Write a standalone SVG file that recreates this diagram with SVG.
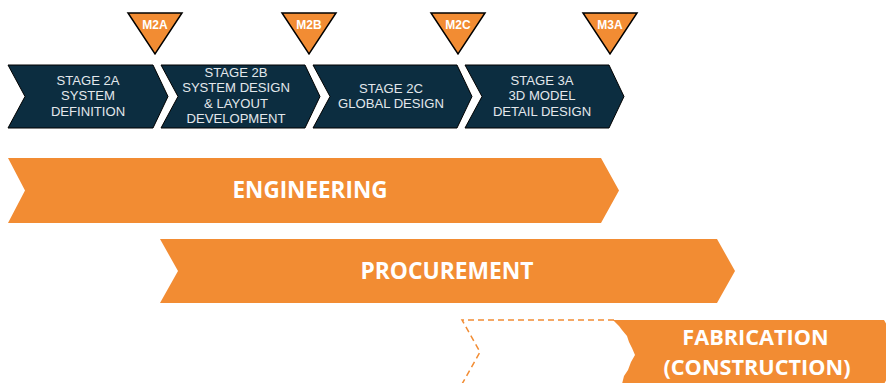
<svg xmlns="http://www.w3.org/2000/svg" width="886" height="383" viewBox="0 0 886 383">
<defs>
<style>
.stage{fill:#0C2D40;stroke:#000;stroke-width:1}
.st{font-family:"Liberation Sans",Arial,sans-serif;font-size:13.1px;fill:#E3E8EC;text-anchor:middle}
.ms{fill:#F28C33;stroke:#000;stroke-width:1.5;stroke-linejoin:miter}
.mt{font-family:"Liberation Sans",Arial,sans-serif;font-size:12px;font-weight:bold;fill:#fff;text-anchor:middle}
.bar{fill:#F28C33}
.bt{font-family:"Open Sans","Liberation Sans",sans-serif;font-weight:bold;fill:#fff;text-anchor:middle}
.dash{fill:none;stroke:#F28C33;stroke-width:1.5;stroke-dasharray:6 4}
</style>
</defs>
<rect width="886" height="383" fill="#fff"/>

<g id="stage2a">
<polygon class="stage" points="8,65 153,65 168,96.5 153,128 8,128 25,96.5"/>
<text class="st" x="88" y="84.5">STAGE 2A</text>
<text class="st" x="88" y="100">SYSTEM</text>
<text class="st" x="88" y="115.5">DEFINITION</text>
</g>
<g id="stage2b">
<polygon class="stage" points="161,65 305,65 320,96.5 305,128 161,128 178,96.5"/>
<text class="st" x="236" y="76.5">STAGE 2B</text>
<text class="st" x="236" y="92">SYSTEM DESIGN</text>
<text class="st" x="236" y="107.5">&amp; LAYOUT</text>
<text class="st" x="236" y="123">DEVELOPMENT</text>
</g>
<g id="stage2c">
<polygon class="stage" points="313,65 457,65 472,96.5 457,128 313,128 330,96.5"/>
<text class="st" x="391" y="93">STAGE 2C</text>
<text class="st" x="391" y="108">GLOBAL DESIGN</text>
</g>
<g id="stage3a">
<polygon class="stage" points="465,65 609,65 624,96.5 609,128 465,128 482,96.5"/>
<text class="st" x="542" y="84.5">STAGE 3A</text>
<text class="st" x="542" y="100">3D MODEL</text>
<text class="st" x="542" y="115.5">DETAIL DESIGN</text>
</g>

<g id="m2a">
<polygon class="ms" points="128,13 182,13 155,54"/>
<text class="mt" x="155" y="29">M2A</text>
</g>
<g id="m2b">
<polygon class="ms" points="282,13 336,13 309,54"/>
<text class="mt" x="309" y="29">M2B</text>
</g>
<g id="m2c">
<polygon class="ms" points="431,13 485,13 458,54"/>
<text class="mt" x="458" y="29">M2C</text>
</g>
<g id="m3a">
<polygon class="ms" points="583,13 637,13 610,54"/>
<text class="mt" x="610" y="29">M3A</text>
</g>

<g id="engineering">
<polygon class="bar" points="8,158 601,158 619,190.5 601,223 8,223 25,190.5"/>
<text class="bt" x="310" y="198" font-size="22.5">ENGINEERING</text>
</g>
<g id="procurement">
<polygon class="bar" points="160,239 717,239 735,271 717,303 160,303 178,271"/>
<text class="bt" x="447" y="279" font-size="22.8">PROCUREMENT</text>
</g>
<g id="fabrication">
<path class="dash" d="M614,320 L462,320 L480,352 L462,384"/>
<path class="bar" d="M613,320 L884,320 L902,352 L884,384 L622,384 L624,376 L628,370 L631,362 L635,355 L632,348 L629,342 L627,336 L622,330 L619,326 Z"/>
<text class="bt" x="755.5" y="345" font-size="21.7">FABRICATION</text>
<text class="bt" x="757" y="375" font-size="21.7">(CONSTRUCTION)</text>
</g>
<g id="connectors"></g>
</svg>
